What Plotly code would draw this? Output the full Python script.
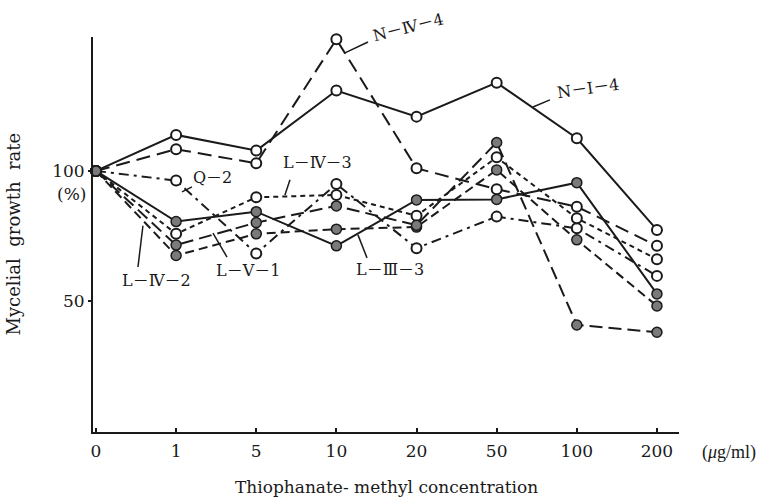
import plotly.graph_objects as go

categories = ["0", "1", "5", "10", "20", "50", "100", "200"]
N_I_4 = [100, 113.8, 107.8, 130.8, 120.8, 133.8, 112.5, 77.4]
N_IV_4 = [100, 108.3, 102.9, 150.4, 101.0, 93.0, 86.3, 71.3]
Q_2 = [100, 96.3, 68.4, 95.0, 70.4, 82.5, 78.0, 59.8]
L_IV_3 = [100, 75.9, 89.9, 90.8, 82.8, 105.2, 81.9, 66.2]
L_IV_2 = [100, 67.6, 75.9, 77.7, 78.5, 100.4, 73.6, 48.3]
L_V_1 = [100, 71.6, 80.2, 86.6, 79.2, 110.9, 41.0, 38.2]
L_III_3 = [100, 80.6, 84.4, 71.3, 88.9, 89.1, 95.5, 52.9]

y_ticks = [50, 100]

FONT = "DejaVu Serif, Liberation Serif, Noto Sans CJK JP, serif"
NARROW = "Liberation Serif, DejaVu Serif, serif"
INK = "#1a1a1a"

series = [
    ("N－Ⅰ－4", N_I_4, "solid", False),
    ("N－Ⅳ－4", N_IV_4, "14px,7px", False),
    ("Q－2", Q_2, "10px,5px,3px,5px", False),
    ("L－Ⅳ－3", L_IV_3, "5px,4px", False),
    ("L－Ⅳ－2", L_IV_2, "9px,5px", True),
    ("L－Ⅴ－1", L_V_1, "13px,6px", True),
    ("L－Ⅲ－3", L_III_3, "solid", True),
]

fig = go.Figure()
for name, vals, dash, filled in series:
    fig.add_trace(go.Scatter(
        x=categories, y=vals, name=name, mode="lines+markers",
        line=dict(color=INK, width=2, dash=dash),
        marker=dict(size=10, symbol="circle",
                    color="#7a7a7a" if filled else "white",
                    line=dict(color=INK, width=2 if not filled else 1.5)),
        cliponaxis=False, showlegend=False,
    ))

fig.update_layout(
    width=767, height=500,
    margin=dict(l=93, r=88, t=37, b=68),
    paper_bgcolor="white", plot_bgcolor="white",
    font=dict(family=FONT, size=16, color=INK),
    showlegend=False,
)
fig.update_xaxes(
    type="category", categoryorder="array", categoryarray=categories,
    range=[-0.037, 7.275],
    showline=True, linecolor=INK, linewidth=2,
    ticks="inside", ticklen=4, tickwidth=1.5, tickcolor=INK,
    showgrid=False, zeroline=False,
    tickfont=dict(family=FONT, size=17, color=INK),
    ticklabelstandoff=3,
)
fig.update_yaxes(
    range=[0, 151.3],
    showline=True, linecolor=INK, linewidth=2,
    tickvals=y_ticks, ticktext=[str(v) for v in y_ticks],
    ticks="outside", ticklen=3, tickwidth=1.5, tickcolor=INK,
    showgrid=False, zeroline=False,
    tickfont=dict(family=FONT, size=17, color=INK),
)

ann = []
def label(text, x, y, angle=0):
    ann.append(dict(text=text, x=x, y=y, xref="x", yref="y", showarrow=False,
                    xanchor="center", yanchor="middle",
                    textangle=angle, font=dict(family=FONT, size=16, color=INK)))

def plabel(text, xp, yp, angle=0):
    ann.append(dict(text=text, x=xp, y=yp, xref="paper", yref="paper", showarrow=False,
                    xanchor="center", yanchor="middle",
                    textangle=angle, font=dict(family=FONT, size=16, color=INK)))

plabel("N－Ⅳ－4", 0.5375, 1.025, -14)
label("N－Ⅰ－4", 6.14, 131.5, -8)
label("Q－2", 1.45, 97.3)
label("L－Ⅳ－3", 2.77, 103.1)
label("L－Ⅳ－2", 0.75, 58.2)
label("L－Ⅴ－1", 1.90, 61.7)
label("L－Ⅲ－3", 3.67, 62.1)

leaders = [
    (3.107, 145.2, 3.394, 149.4),
    (5.453, 124.5, 5.665, 127.2),
    (1.073, 92.0, 1.198, 93.9),
    (2.421, 96.6, 2.358, 90.8),
    (0.524, 63.2, 0.586, 79.0),
    (1.635, 67.0, 1.46, 76.2),
    (3.382, 66.7, 3.269, 75.5),
]
shapes = [dict(type="line", xref="x", yref="y", x0=a, y0=b, x1=c, y1=d,
               line=dict(color=INK, width=1.5)) for a, b, c, d in leaders]

ann.append(dict(text="(%)", xref="paper", yref="y", x=0, y=91.0, xanchor="right",
                yanchor="middle", xshift=-5, showarrow=False,
                font=dict(family=FONT, size=17, color=INK)))
ann.append(dict(text="Mycelial  growth  rate", xref="paper", yref="paper", x=0, y=0.5,
                xanchor="center", yanchor="middle",
                xshift=-80, textangle=-90, showarrow=False,
                font=dict(family=FONT, size=18, color=INK)))
ann.append(dict(text="(<i>μ</i>g/ml)", xref="paper", yref="paper", x=1.036, y=0,
                yshift=-20, xanchor="left", yanchor="middle",
                showarrow=False, font=dict(family=NARROW, size=18, color=INK)))
ann.append(dict(text="Thiophanate- methyl concentration", xref="paper", yref="paper",
                x=0.5, y=0, yshift=-55, xanchor="center", yanchor="middle", showarrow=False,
                font=dict(family=FONT, size=17, color=INK)))

fig.update_layout(annotations=ann, shapes=shapes)
fig.write_html("out.html")
